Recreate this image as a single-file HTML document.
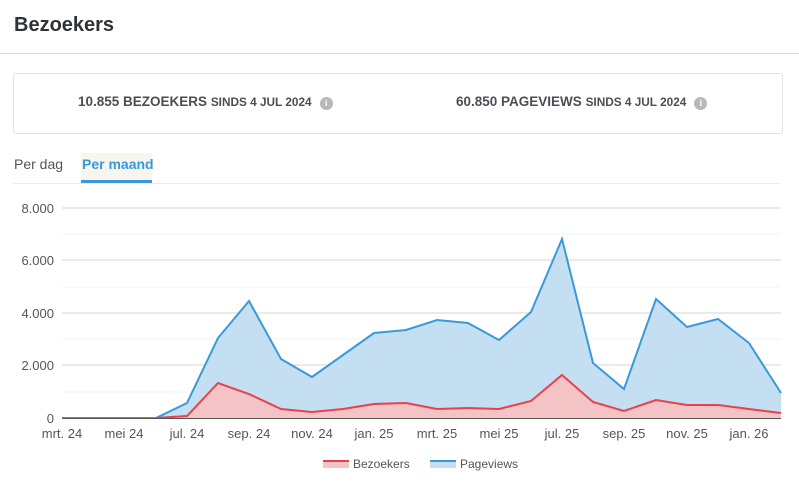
<!DOCTYPE html>
<html><head><meta charset="utf-8"><style>
body{margin:0;width:799px;height:498px;background:#fff;font-family:"Liberation Sans",sans-serif;overflow:hidden;position:relative}
.t{position:absolute;left:14px;top:14px;font-size:20px;font-weight:bold;color:#2f3338}
.hr{position:absolute;left:0;top:53px;width:799px;height:1px;background:#d9d9d9}
.box{position:absolute;left:13px;top:73px;width:768px;height:59px;border:1px solid #e3e3e3;border-radius:3px}
.s{position:absolute;top:94px;font-size:13.5px;font-weight:bold;color:#4a4f55;white-space:nowrap}
.s small{font-size:11.8px}
.i{display:inline-block;width:13px;height:13px;border-radius:50%;background:#b8b8b8;color:#fff;font-size:9px;text-align:center;line-height:13px;vertical-align:0px;margin-left:8px}
.tab{position:absolute;top:156px;font-size:14px}
</style></head><body>
<div class="t">Bezoekers</div>
<div class="hr"></div>
<div class="box"></div>
<div class="s" style="left:78px">10.855 BEZOEKERS <small>SINDS 4 JUL 2024</small><span class="i">i</span></div>
<div class="s" style="left:456px">60.850 PAGEVIEWS <small>SINDS 4 JUL 2024</small><span class="i">i</span></div>
<div class="tab" style="left:14px;color:#555">Per dag</div>
<div style="position:absolute;left:81px;top:153px;width:71px;height:27px;background:#f7f5f0"></div>
<div class="tab" style="left:82px;color:#3a9ad9;font-weight:bold">Per maand</div>
<div style="position:absolute;left:81px;top:180px;width:71px;height:3px;background:#3a9ad9"></div>
<div style="position:absolute;left:13px;top:183px;width:768px;height:1px;background:#ececec"></div>
<svg width="799" height="498" style="position:absolute;left:0;top:0" font-family="Liberation Sans, sans-serif">
<g stroke="#f3f3f3"><line x1="62" x2="781" y1="234" y2="234"/><line x1="62" x2="781" y1="287" y2="287"/><line x1="62" x2="781" y1="339" y2="339"/><line x1="62" x2="781" y1="392" y2="392"/></g>
<g stroke="#d6d6d6"><line x1="62" x2="781" y1="208" y2="208"/><line x1="62" x2="781" y1="260" y2="260"/><line x1="62" x2="781" y1="313" y2="313"/><line x1="62" x2="781" y1="365" y2="365"/></g>
<g font-size="13" fill="#555" text-anchor="end"><text x="54" y="213">8.000</text><text x="54" y="265">6.000</text><text x="54" y="318">4.000</text><text x="54" y="370">2.000</text><text x="54" y="423">0</text></g>
<polygon fill="#c4dff2" points="62,418 93,418 124,418 156,418 187,403 218,338 249,301 281,359 312,377 343,355 374,333 406,330 437,320 468,323 499,340 531,312 562,239 593,363 624,389 656,299 687,327 718,319 749,343 781,393 781,418"/>
<polyline fill="none" stroke="#3a9ad9" stroke-width="2" points="62,418 93,418 124,418 156,418 187,403 218,338 249,301 281,359 312,377 343,355 374,333 406,330 437,320 468,323 499,340 531,312 562,239 593,363 624,389 656,299 687,327 718,319 749,343 781,393"/>
<polygon fill="#f4c3c6" points="156,418 187,416 218,383 249,394 281,409 312,412 343,409 374,404 406,403 437,409 468,408 499,409 531,401 562,375 593,402 624,411 656,400 687,405 718,405 749,409 781,413 781,418"/>
<polyline fill="none" stroke="#e8414d" stroke-width="2" points="156,418 187,416 218,383 249,394 281,409 312,412 343,409 374,404 406,403 437,409 468,408 499,409 531,401 562,375 593,402 624,411 656,400 687,405 718,405 749,409 781,413"/>
<line x1="62" x2="781" y1="418.5" y2="418.5" stroke="#555"/>
<g font-size="13" fill="#555" text-anchor="middle"><text x="62" y="438">mrt. 24</text><text x="124" y="438">mei 24</text><text x="187" y="438">jul. 24</text><text x="249" y="438">sep. 24</text><text x="312" y="438">nov. 24</text><text x="374" y="438">jan. 25</text><text x="437" y="438">mrt. 25</text><text x="499" y="438">mei 25</text><text x="562" y="438">jul. 25</text><text x="624" y="438">sep. 25</text><text x="687" y="438">nov. 25</text><text x="749" y="438">jan. 26</text></g>
<rect x="323" y="460" width="26" height="8" fill="#f4c3c6"/><line x1="323" x2="349" y1="461" y2="461" stroke="#e8414d" stroke-width="2"/>
<text x="353" y="468" font-size="12" fill="#555">Bezoekers</text>
<rect x="430" y="460" width="26" height="8" fill="#c4dff2"/><line x1="430" x2="456" y1="461" y2="461" stroke="#3a9ad9" stroke-width="2"/>
<text x="460" y="468" font-size="12" fill="#555">Pageviews</text>
</svg>
</body></html>
